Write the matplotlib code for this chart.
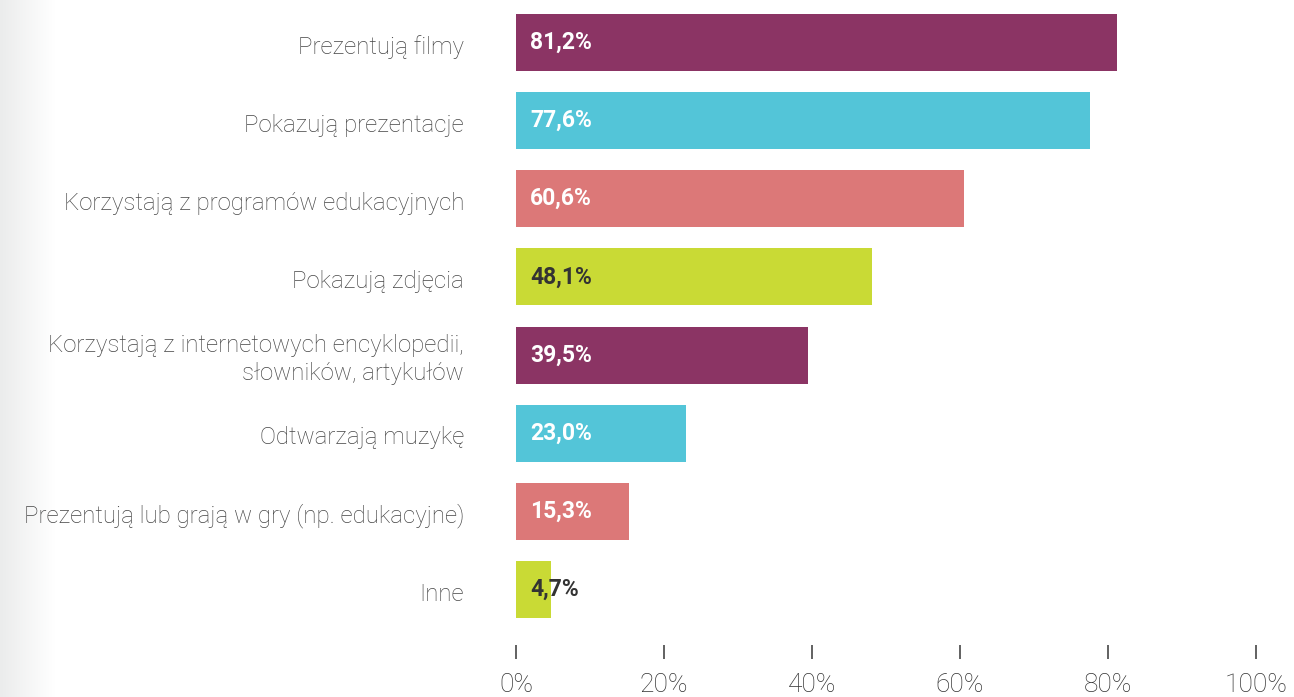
import numpy as np
import matplotlib
matplotlib.use("Agg")
import matplotlib.pyplot as plt
import matplotlib.transforms as mtransforms
from matplotlib.colors import LinearSegmentedColormap

categories = [
    "Prezentują filmy",
    "Pokazują prezentacje",
    "Korzystają z programów edukacyjnych",
    "Pokazują zdjęcia",
    "Korzystają z internetowych encyklopedii,\nsłowników, artykułów",
    "Odtwarzają muzykę",
    "Prezentują lub grają w gry (np. edukacyjne)",
    "Inne",
]
values = [81.2, 77.6, 60.6, 48.1, 39.5, 23.0, 15.3, 4.7]
value_labels = ["81,2%", "77,6%", "60,6%", "48,1%", "39,5%", "23,0%", "15,3%", "4,7%"]
tick_values = [0, 20, 40, 60, 80, 100]
tick_labels = ["0%", "20%", "40%", "60%", "80%", "100%"]

palette = ["#8B3464", "#53C5D8", "#DC7878", "#C9DA35"]
text_on = ["white", "white", "white", "#333333"]

W, H = 1294, 697
fig = plt.figure(figsize=(W / 100, H / 100), dpi=100)
fig.patch.set_facecolor("white")

# soft grey fade on the left edge
grad_ax = fig.add_axes([0, 0, 55 / W, 1])
grad_ax.axis("off")
cmap = LinearSegmentedColormap.from_list("fade", ["#EBECEC", "#FFFFFF"])
grad_ax.imshow(np.linspace(0, 1, 256).reshape(1, -1), aspect="auto",
               cmap=cmap, extent=[0, 1, 0, 1])

# axes: x 0..100 maps to px 516..1256, bar i centered at px 42.5 + 78.14*i
x0, x1 = 516, 1256
step = 78.14
top_c = 42.5
ax = fig.add_axes([x0 / W, 0, (x1 - x0) / W, 1])
ax.set_xlim(0, 100)
ax.set_ylim((H - top_c) / step, -top_c / step)
ax.patch.set_alpha(0)

y = np.arange(len(categories))
colors = [palette[i % 4] for i in range(len(categories))]
ax.barh(y, values, height=57 / step, color=colors, zorder=2)

for i, lab in enumerate(value_labels):
    ax.text(1.9, i, lab, va="center", ha="left", fontsize=16.5,
            fontfamily="Roboto", fontweight="bold",
            color=text_on[i % 4], zorder=3)

# category labels, right aligned 52 px left of the zero line
trans = mtransforms.blended_transform_factory(ax.transAxes, ax.transData)
for i, cat in enumerate(categories):
    ax.text(-52 / (x1 - x0), i + 0.06, cat, transform=trans,
            ha="right", va="center", multialignment="right",
            fontfamily="Roboto", fontweight="light", fontsize=17.3,
            color="#454545", linespacing=1.25)

ax.set_yticks([])
for s in ["top", "right", "left"]:
    ax.spines[s].set_visible(False)
ax.spines["bottom"].set_position(("data", (645 - top_c) / step))
ax.spines["bottom"].set_visible(False)
ax.set_xticks(tick_values)
ax.set_xticklabels(tick_labels, fontfamily="Roboto", fontweight="light",
                   fontsize=19, color="#333333")
ax.tick_params(axis="x", direction="out", length=10, width=1.3,
               color="#555555", pad=10)

fig.savefig("out.png", dpi=100)
